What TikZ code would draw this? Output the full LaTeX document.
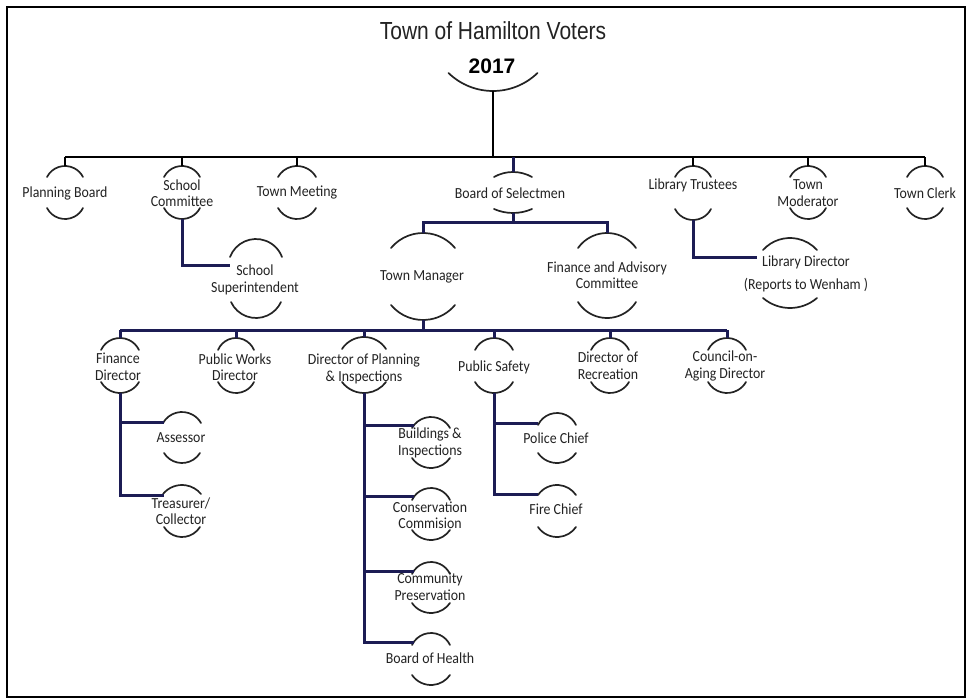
\documentclass[tikz,border=0pt]{standalone}
\usepackage{fontspec}
\setmainfont{Carlito}[FakeStretch=0.9]
\newfontfamily\titlefont[FakeStretch=0.85]{Liberation Sans}
\newfontfamily\yearfont{Liberation Sans}
\usetikzlibrary{calc}
\definecolor{navy}{RGB}{28,28,84}
\definecolor{ink}{RGB}{35,35,35}
\tikzset{
  lbl/.style={font=\fontsize{15.4}{16.5}\selectfont, text=ink, align=center, inner sep=0pt},
  arcline/.style={draw=ink, line width=1.7pt, line cap=round},
  blackline/.style={draw=black, line width=2.5pt},
  navyline/.style={draw=navy, line width=3pt},
  frame/.style={draw=black, line width=2.6pt},
}
% frown: apex x, apex y, half width, sag
\newcommand\frownarc[4]{%
  \pgfmathsetmacro\arcR{(#3*#3+#4*#4)/(2*#4)}%
  \pgfmathsetmacro\arcA{asin(#3/\arcR)}%
  \draw[arcline] ({#1-#3},{#2+#4}) arc[start angle={90+\arcA}, end angle={90-\arcA}, radius=\arcR pt];
}
\newcommand\smilearc[4]{%
  \pgfmathsetmacro\arcR{(#3*#3+#4*#4)/(2*#4)}%
  \pgfmathsetmacro\arcA{asin(#3/\arcR)}%
  \draw[arcline] ({#1-#3},{#2-#4}) arc[start angle={270-\arcA}, end angle={270+\arcA}, radius=\arcR pt];
}
% name, x, top apex y, top half width, top sag, bottom apex y, bottom half width, bottom sag
\newcommand\orgunit[8]{%
  \coordinate (#1-t) at (#2,#3);
  \coordinate (#1-b) at (#2,#6);
  \frownarc{#2}{#3}{#4}{#5}
  \smilearc{#2}{#6}{#7}{#8}
}
\begin{document}
\begin{tikzpicture}[x=1pt,y=-1pt]
\useasboundingbox (0,0) rectangle (971,700);
\fill[white] (0,0) rectangle (971,700);
\draw[frame] (7,7) rectangle (965,697);

% title
\node[font=\titlefont\fontsize{24.7}{28}\selectfont, text=ink, inner sep=0pt] (title) at (493,31) {Town of Hamilton Voters};
\node[font=\yearfont\bfseries\fontsize{21}{24}\selectfont, text=black, inner sep=0pt] (year) at (492,66) {2017};
\coordinate (vt-b) at (493,91);
\smilearc{493}{91}{44.5}{18}

% units
\orgunit{pb}{65}{166}{18}{11}{219}{18}{11}
\orgunit{sc}{182}{166}{18}{11}{219}{18}{11}
\orgunit{tmeet}{297}{166}{19}{11}{219}{19}{11}
\orgunit{bos}{513}{172}{19}{5}{213}{19}{4}
\orgunit{lt}{693}{166}{18}{11}{220}{18}{11}
\orgunit{tmod}{808}{166}{18}{11}{219}{18}{11}
\orgunit{tc}{925}{166}{18}{11}{219}{18}{11}
\orgunit{tman}{423}{233}{32}{15}{320}{32}{15}
\orgunit{fac}{607}{233}{29}{15}{318}{29}{16}
\orgunit{ss}{256}{239}{26}{18}{318}{25}{16}
\orgunit{ld}{790}{238}{27}{12}{308}{27}{10}
\orgunit{fd}{120}{338}{19}{12}{393}{19}{11}
\orgunit{pw}{236}{338}{18}{12}{393}{18}{11}
\orgunit{dp}{364}{337}{22}{12}{393}{22}{11}
\orgunit{ps}{494}{338}{19}{12}{393}{19}{11}
\orgunit{dr}{610}{338}{19}{12}{393}{19}{11}
\orgunit{coa}{727}{338}{19}{12}{393}{19}{11}
\orgunit{ass}{182}{412}{19}{11}{463}{18}{10}
\orgunit{tre}{182}{485}{19}{9}{537}{18}{10}
\orgunit{bld}{431}{417}{19}{11}{468}{19}{10}
\orgunit{con}{431}{488}{19}{12}{540}{19}{10}
\orgunit{com}{431}{562}{19}{12}{613}{19}{10}
\orgunit{boh}{431}{633}{19}{12}{685}{19}{10}
\orgunit{pol}{557}{413}{19}{12}{463}{19}{10}
\orgunit{fire}{557}{485}{19}{10}{537}{19}{10}

% labels
\node[lbl] (pb) at (65,193) {Planning Board};
\node[lbl] (sc) at (182,193) {School\\Committee};
\node[lbl] (tmeet) at (297,193) {Town Meeting};
\node[lbl] (bos) at (510,193) {Board of Selectmen};
\node[lbl] (lt) at (693,185) {Library Trustees};
\node[lbl] (tmod) at (808,193) {Town\\Moderator};
\node[lbl] (tc) at (925,193) {Town Clerk};
\node[lbl] (tman) at (422,277) {Town Manager};
\node[lbl] (fac) at (607,275) {Finance and Advisory\\Committee};
\node[lbl] (ss) at (255,280) {School\\Superintendent};
\node[lbl] (ld) at (806,274) {Library Director\\[6.5pt](Reports to Wenham )};
\node[lbl] (fd) at (118,367) {Finance\\Director};
\node[lbl] (pw) at (235,367) {Public Works\\Director};
\node[lbl] (dp) at (364,369) {Director of Planning\\\& Inspections};
\node[lbl] (ps) at (494,367) {Public Safety};
\node[lbl] (dr) at (608,366) {Director of\\Recreation};
\node[lbl] (coa) at (725,366) {Council-on-\\Aging Director};
\node[lbl] (ass) at (181,438) {Assessor};
\node[lbl] (tre) at (181,511) {Treasurer/\\Collector};
\node[lbl] (bld) at (430,443) {Buildings \&\\Inspections};
\node[lbl] (con) at (430,515) {Conservation\\Commision};
\node[lbl] (com) at (430,587) {Community\\Preservation};
\node[lbl] (boh) at (430,658) {Board of Health};
\node[lbl] (pol) at (556,438) {Police Chief};
\node[lbl] (fire) at (556,509) {Fire Chief};

% bus coordinates and branch ends
\coordinate (bus1) at (0,157);
\coordinate (bus2) at (0,223);
\coordinate (bus3) at (0,330);
\coordinate (ss-w) at (230,266);
\coordinate (ld-w) at (757,258);
\coordinate (ass-w) at (164,422);
\coordinate (tre-w) at (164,495);
\coordinate (bld-w) at (414,425);
\coordinate (con-w) at (414,496);
\coordinate (com-w) at (414,571);
\coordinate (boh-w) at (414,642);
\coordinate (pol-w) at (538,423);
\coordinate (fire-w) at (538,494);

% black top-level connectors
\draw[blackline] (vt-b) -- (vt-b |- bus1);
\draw[blackline] (pb-t |- bus1) -- (tc-t |- bus1);
\foreach \n in {pb,sc,tmeet,lt,tmod,tc}
  \draw[blackline] (\n-t) -- (\n-t |- bus1);

% navy connectors
\draw[navyline] (bos-t) -- (bos-t |- bus1);
\draw[navyline] (bos-b) -- (bos-b |- bus2);
\draw[navyline] (tman-t) -- (tman-t |- bus2) -- (fac-t |- bus2) -- (fac-t);
\draw[navyline] (sc-b) |- (ss-w);
\draw[navyline] (lt-b) |- (ld-w);
\draw[navyline] (tman-b) -- (tman-b |- bus3);
\draw[navyline] (fd-t |- bus3) -- (coa-t |- bus3);
\foreach \n in {fd,pw,dp,ps,dr,coa}
  \draw[navyline] (\n-t) -- (\n-t |- bus3);
\draw[navyline] (fd-b) |- (tre-w);
\draw[navyline] (fd-b |- ass-w) -- (ass-w);
\draw[navyline] (dp-b) |- (boh-w);
\draw[navyline] (dp-b |- bld-w) -- (bld-w);
\draw[navyline] (dp-b |- con-w) -- (con-w);
\draw[navyline] (dp-b |- com-w) -- (com-w);
\draw[navyline] (ps-b) |- (fire-w);
\draw[navyline] (ps-b |- pol-w) -- (pol-w);
\end{tikzpicture}
\end{document}
